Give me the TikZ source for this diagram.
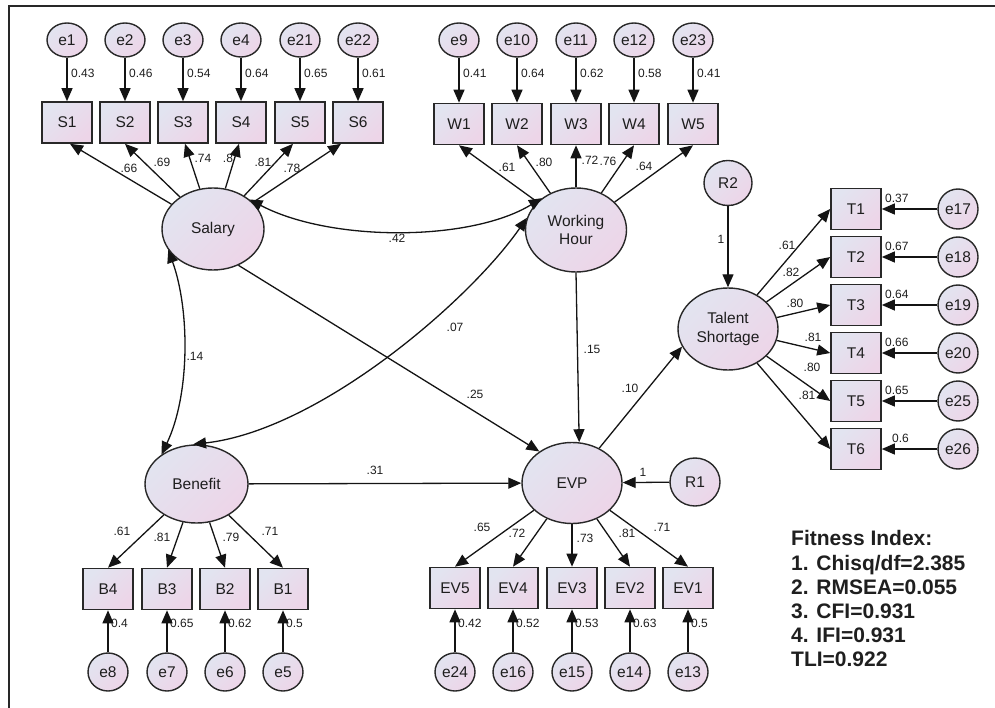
\documentclass[tikz,border=0pt]{standalone}
\usepackage{fontspec}
\setmainfont{Liberation Sans}
\usetikzlibrary{arrows.meta,shapes.geometric,calc}
\definecolor{fillA}{RGB}{226,228,240}
\definecolor{fillB}{RGB}{237,213,232}
\definecolor{edgec}{RGB}{40,40,40}
\definecolor{txtc}{RGB}{30,30,30}
\newcommand\ndfont{\fontsize{15.5}{17.5}\selectfont}
\newcommand\lbfont{\fontsize{12}{14}\selectfont}
\tikzset{
 shadefill/.style={top color=fillA, bottom color=fillB, shading angle=45},
 lat/.style={ellipse, draw=edgec, line width=1.4pt, shadefill, inner sep=0pt, minimum width=102pt, minimum height=82pt, font=\ndfont, text=txtc, align=center},
 obs/.style={rectangle, draw=edgec, line width=1.6pt, shadefill, inner sep=0pt, minimum width=50pt, minimum height=41pt, font=\ndfont, text=txtc},
 err/.style={ellipse, draw=edgec, line width=1.4pt, shadefill, inner sep=0pt, minimum width=40pt, minimum height=38pt, font=\ndfont, text=txtc},
 errtop/.style={err, minimum height=34pt},
 res/.style={err, minimum width=50pt, minimum height=48pt},
 lab/.style={font=\lbfont, text=txtc, inner sep=0pt},
 arr/.style={-{Triangle[length=13pt,width=11pt]}, line width=1.3pt, draw=black!92},
 darr/.style={{Triangle[length=13pt,width=11pt]}-{Triangle[length=13pt,width=11pt]}, line width=1.3pt, draw=black!92},
}
\begin{document}
\begin{tikzpicture}[x=1pt,y=1pt]
\useasboundingbox (0,0) rectangle (995,-708);
\draw[line width=1.6pt, edgec] (9,-708) -- (9,-6) -- (995,-6);

% latent variables
\node[lat] (Salary) at (213,-229) {Salary};
\node[lat, minimum width=101pt, minimum height=84pt] (WH) at (576,-230) {Working\\Hour};
\node[lat, minimum width=103pt, minimum height=78pt] (Benefit) at (196.5,-484) {Benefit};
\node[lat, minimum width=100pt, minimum height=81pt] (EVP) at (572,-483) {EVP};
\node[lat, minimum width=100pt, minimum height=82pt, font=\fontsize{15.5}{19}\selectfont] (TS) at (728,-329) {Talent\\Shortage};
\node[res] (R1) at (695,-482) {R1};
\node[res, minimum height=45pt, minimum width=48pt] (R2) at (728,-183) {R2};

% Salary indicators
\foreach \e/\s/\x/\v in {e1/S1/67/0.43, e2/S2/125/0.46, e3/S3/183/0.54, e4/S4/241/0.64, e21/S5/300/0.65, e22/S6/358/0.61}{
  \node[errtop] (\e) at (\x,-40) {\e};
  \node[obs] (\s) at (\x,-122.5) {\s};
  \draw[arr] (\e) -- (\s);
  \node[lab, anchor=west] (l\e) at (\x+4,-73) {\v};
}
% Working hour indicators
\foreach \e/\s/\x/\v in {e9/W1/459/0.41, e10/W2/517/0.64, e11/W3/576/0.62, e12/W4/634/0.58, e23/W5/693/0.41}{
  \node[errtop] (\e) at (\x,-40) {\e};
  \node[obs] (\s) at (\x,-124) {\s};
  \draw[arr] (\e) -- (\s);
  \node[lab, anchor=west] (l\e) at (\x+4,-73) {\v};
}
% Benefit indicators
\foreach \e/\s/\x/\v in {e8/B4/108/0.4, e7/B3/167/0.65, e6/B2/225/0.62, e5/B1/283/0.5}{
  \node[obs] (\s) at (\x,-589) {\s};
  \node[err] (\e) at (\x,-672) {\e};
  \node[lab, anchor=west] (l\e) at (\x+3,-623) {\v};
  \draw[arr] (\e) -- (\s);
  \draw[arr] (Benefit) -- (\s.north);
}
% EVP indicators
\foreach \e/\s/\x/\v in {e24/EV5/455/0.42, e16/EV4/513/0.52, e15/EV3/572/0.53, e14/EV2/630/0.63, e13/EV1/688/0.5}{
  \node[obs] (\s) at (\x,-588) {\s};
  \node[err] (\e) at (\x,-672) {\e};
  \node[lab, anchor=west] (l\e) at (\x+3,-623) {\v};
  \draw[arr] (\e) -- (\s);
  \draw[arr] (EVP) -- (\s.north);
}
% Talent shortage indicators
\foreach \e/\s/\y/\v/\lx in {e17/T1/209/0.37/885, e18/T2/257/0.67/885, e19/T3/305/0.64/885, e20/T4/353/0.66/885, e25/T5/401/0.65/885, e26/T6/449/0.6/892}{
  \node[obs] (\s) at (856,-\y) {\s};
  \node[err, minimum height=40pt] (\e) at (958,-\y) {\e};
  \node[lab, anchor=west] (l\e) at (\lx,-\y+11) {\v};
  \draw[arr] (\e) -- (\s);
  \draw[arr] (TS) -- (\s.west);
}

% Salary loadings
\draw[arr] (Salary) -- ([xshift=3pt]S1.south);
\draw[arr] (Salary) -- (S2.south);
\draw[arr] (Salary) -- ([xshift=2pt]S3.south);
\draw[arr] (Salary) -- ([xshift=-2pt]S4.south);
\draw[arr] (Salary) -- ([xshift=-7pt]S5.south);
\draw[arr] (Salary) -- ([xshift=-17pt]S6.south);
% WH loadings
\foreach \s in {W1,W2,W3,W4,W5}{ \draw[arr] (WH) -- (\s.south); }

% structural paths
\draw[arr] (Salary.-55) -- (EVP.136);
\draw[arr] (WH.south) -- (EVP.80);
\draw[arr] (Benefit) -- (EVP);
\draw[arr] (EVP.52) -- (TS.201);
\draw[arr] (R1) -- (EVP);
\draw[arr] (R2) -- (TS);

% covariances
\draw[darr] (Salary.39) .. controls (330,-242) and (470,-242) .. (WH.137);
\draw[darr] (Salary.205) .. controls (190,-310) and (190,-395) .. (Benefit.140);
\draw[darr] (Benefit.95) .. controls (320,-430) and (470,-300) .. (WH.166);

% loading labels
\node[lab] (a1) at (129,-168) {.66};
\node[lab] (a2) at (162,-162) {.69};
\node[lab] (a3) at (203,-158) {.74};
\node[lab] (a4) at (228,-158) {.8};
\node[lab] (a5) at (263,-162) {.81};
\node[lab] (a6) at (292,-168) {.78};
\node[lab] (b1) at (507,-167) {.61};
\node[lab] (b2) at (544,-162) {.80};
\node[lab] (b3) at (590,-160) {.72};
\node[lab] (b4) at (608,-161) {.76};
\node[lab] (b5) at (644,-166) {.64};
\node[lab] (c1) at (122,-531) {.61};
\node[lab] (c2) at (162,-537) {.81};
\node[lab] (c3) at (231,-537) {.79};
\node[lab] (c4) at (270,-531) {.71};
\node[lab] (d1) at (482,-527) {.65};
\node[lab] (d2) at (517,-533) {.72};
\node[lab] (d3) at (585,-538) {.73};
\node[lab] (d4) at (627,-533) {.81};
\node[lab] (d5) at (662,-527) {.71};
\node[lab] (t1) at (787,-245) {.61};
\node[lab] (t2) at (791,-272) {.82};
\node[lab] (t3) at (795,-303) {.80};
\node[lab] (t4) at (813,-337) {.81};
\node[lab] (t5) at (812,-367) {.80};
\node[lab] (t6) at (807,-395) {.81};
% path labels
\node[lab] (p1) at (397,-238) {.42};
\node[lab] (p2) at (195,-356) {.14};
\node[lab] (p3) at (455,-327) {.07};
\node[lab] (p4) at (475,-394) {.25};
\node[lab] (p5) at (592,-349) {.15};
\node[lab] (p6) at (630,-388) {.10};
\node[lab] (p7) at (375,-470) {.31};
\node[lab] (p8) at (643,-472) {1};
\node[lab] (p9) at (721,-239) {1};

% fitness
\node[anchor=north west, align=left, inner sep=0pt, text=black!88, font=\bfseries\fontsize{21}{24.2}\selectfont] (fit) at (791,-530.5)
 {Fitness Index:\\1. Chisq/df=2.385\\2. RMSEA=0.055\\3. CFI=0.931\\4. IFI=0.931\\TLI=0.922};
\end{tikzpicture}
\end{document}
